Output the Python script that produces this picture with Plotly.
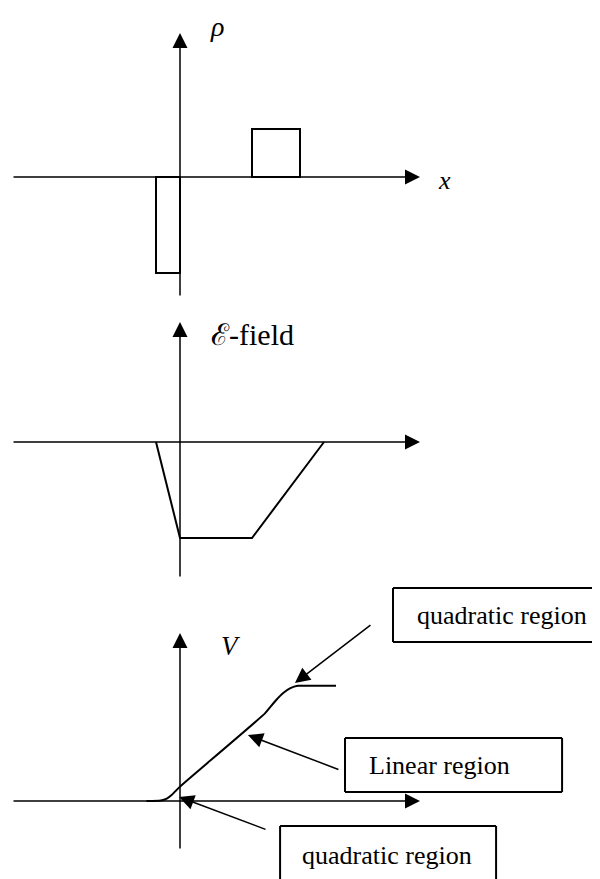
import plotly.graph_objects as go

# charge density: two blocks (left edge, width, height)
rho_left = [-1, 3]
rho_width = [1, 2]
rho_val = [-4, 2]

# electric field profile
e_x = [-1, 0, 3, 6]
e_val = [0, -4, -4, 0]

# potential profile
v_x = [-1.4, -0.8, -0.55, -0.35, -0.2, 0, 3.54, 3.75, 4.0, 4.3, 4.6, 4.9, 5.2, 6.5]
v_val = [0, 0.02, 0.1, 0.25, 0.4, 0.6, 3.65, 3.9, 4.2, 4.5, 4.7, 4.8, 4.8, 4.8]

FONT = "Liberation Serif"
LW = 2

fig = go.Figure()

fig.add_trace(go.Bar(
    x=rho_left, y=rho_val, width=rho_width, offset=0,
    marker=dict(color="rgba(0,0,0,0)", line=dict(color="black", width=LW)),
    xaxis="x", yaxis="y"))
fig.add_trace(go.Scatter(
    x=e_x, y=e_val, mode="lines",
    line=dict(color="black", width=LW),
    xaxis="x", yaxis="y2"))
fig.add_trace(go.Scatter(
    x=v_x, y=v_val, mode="lines",
    line=dict(color="black", width=LW, shape="spline", smoothing=0.6),
    xaxis="x", yaxis="y3"))

annotations = []

def axis_arrow(yref, x0, y0, x1, y1):
    annotations.append(dict(
        x=x1, y=y1, ax=x0, ay=y0, xref="x", yref=yref, axref="x", ayref=yref,
        text="", showarrow=True, arrowhead=2, arrowsize=2, arrowwidth=1.5,
        arrowcolor="black"))

# coordinate axes for each panel
axis_arrow("y", -7, 0, 10, 0)
axis_arrow("y", 0, -5, 0, 6)
axis_arrow("y2", -7, 0, 10, 0)
axis_arrow("y2", 0, -5.67, 0, 5)
axis_arrow("y3", -7, 0, 10, 0)
axis_arrow("y3", 0, -2.04, 0, 7)

def label(text, x, y, yref, size, italic=False, xanchor="center", yanchor="middle"):
    annotations.append(dict(
        x=x, y=y, xref="x", yref=yref, text=text, showarrow=False,
        xanchor=xanchor, yanchor=yanchor,
        font=dict(family=FONT, size=size, color="black",
                  style="italic" if italic else "normal")))

label("ρ", 1.54, 7.0, "y", 28, italic=True, yanchor="top")
label("x", 11.04, -0.15, "y", 26, italic=True)
label("ℰ-field", 3.0, 4.46, "y2", 30)
label("V", 2.125, 6.46, "y3", 27, italic=True)

# callout boxes (sides listed explicitly, the ones off the page left out)
boxes = [
    dict(x0=8.875, x1=17.5, y0=6.625, y1=8.875, sides=("top", "left", "bottom"),
         text="quadratic region", tx=9.79, ty=7.75, tip=(4.79, 4.92), off=(77, -59)),
    dict(x0=6.875, x1=15.92, y0=0.375, y1=2.625, sides=("top", "left", "bottom", "right"),
         text="Linear region", tx=7.79, ty=1.46, tip=(2.83, 2.75), off=(92, 35)),
    dict(x0=4.17, x1=13.17, y0=-3.6, y1=-1.04, sides=("top", "left", "right"),
         text="quadratic region", tx=5.0, ty=-2.25, tip=(-0.04, 0.17), off=(88, 33)),
]
shapes = []
for b in boxes:
    x0, x1, y0, y1 = b["x0"], b["x1"], b["y0"], b["y1"]
    edges = {"top": (x0, y1, x1, y1), "bottom": (x0, y0, x1, y0),
             "left": (x0, y0, x0, y1), "right": (x1, y0, x1, y1)}
    for s in b["sides"]:
        ex0, ey0, ex1, ey1 = edges[s]
        shapes.append(dict(type="line", xref="x", yref="y3",
                           x0=ex0, y0=ey0, x1=ex1, y1=ey1,
                           line=dict(color="black", width=LW)))
    label(b["text"], b["tx"], b["ty"], "y3", 26, xanchor="left")
    annotations.append(dict(
        x=b["tip"][0], y=b["tip"][1], xref="x", yref="y3",
        ax=b["off"][0], ay=b["off"][1], text="", showarrow=True,
        arrowhead=2, arrowsize=2, arrowwidth=1.5, arrowcolor="black"))

# ranges are offset by the page's 8px body margin
hidden = dict(visible=False, fixedrange=True)
fig.update_layout(
    width=600, height=879,
    margin=dict(l=0, r=0, t=0, b=0),
    paper_bgcolor="white", plot_bgcolor="white",
    showlegend=False,
    xaxis=dict(range=[-7.1667, 17.8333], **hidden),
    yaxis=dict(range=[-29.583, 7.0417], **hidden),
    yaxis2=dict(range=[-18.542, 18.083], overlaying="y", **hidden),
    yaxis3=dict(range=[-3.583, 33.042], overlaying="y", **hidden),
    shapes=shapes,
    annotations=annotations,
)

fig.write_html("out.html")
